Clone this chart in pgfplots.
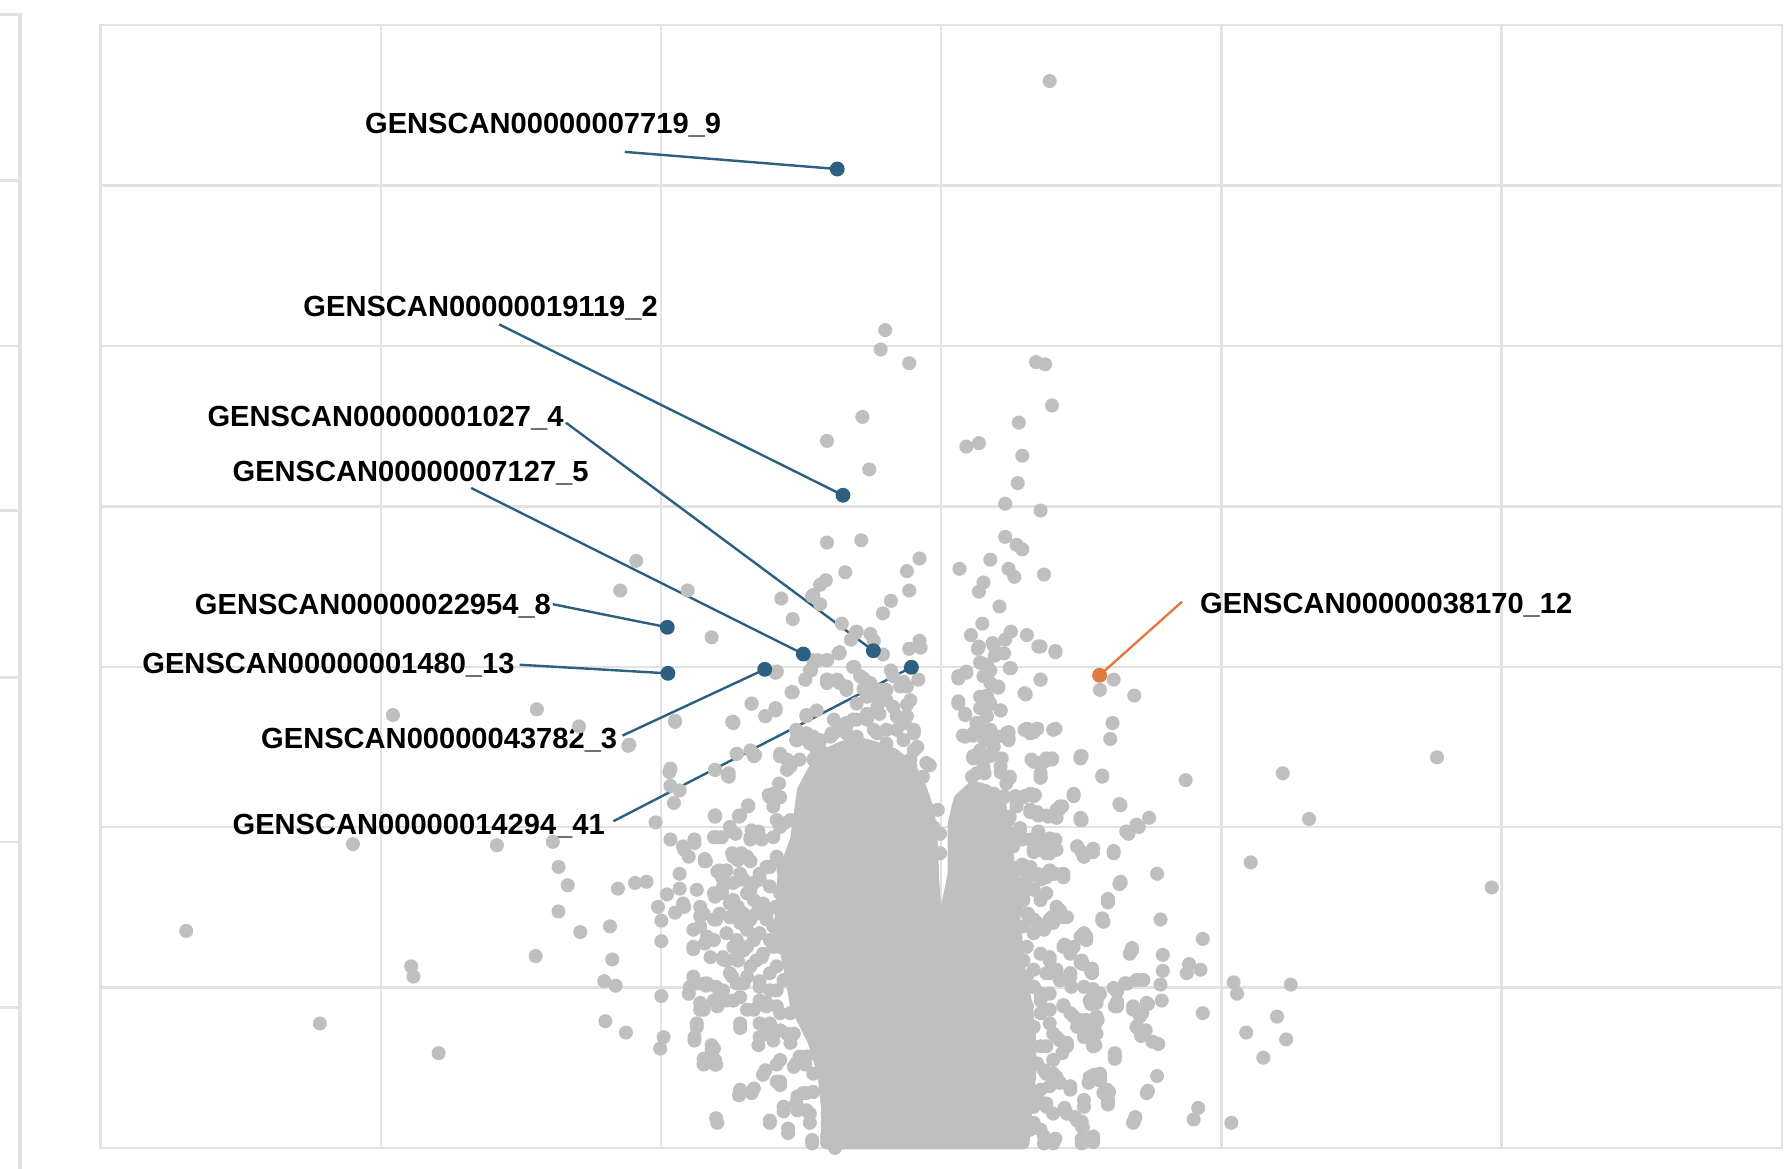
\documentclass[border=0pt]{standalone}
\usepackage{pgfplots}
\pgfplotsset{compat=1.18}
\usepackage{pgfplotstable}
\usepackage{fontspec}
\setmainfont{Liberation Sans}
\definecolor{ptgray}{RGB}{191,191,191}
\definecolor{gridc}{RGB}{226,226,226}
\definecolor{lblue}{RGB}{44,95,128}
\definecolor{lorange}{RGB}{224,122,62}
\newcommand{\lbl}{\fontsize{7.25}{8}\selectfont\bfseries}

\pgfplotstableread{
x y
919 71
775 289
771 306
796 318
755 365
724 386
761 411
907 317
915 319
921 355
892 370
846 391
857 388
895 399
891 423
880 441
911 447
724 475
754 473
805 489
794 500
796 517
740 501
723 508
718 512
711 522
684 524
718 529
694 542
780 526
773 537
737 546
749 554
745 560
762 555
765 561
773 573
805 561
806 567
796 568
735 571
724 578
716 578
710 587
705 595
680 588
694 606
724 595
733 596
748 584
756 594
780 587
791 597
804 595
679 621
670 627
840 498
867 490
861 510
857 518
883 498
888 505
914 503
880 470
890 477
895 481
875 531
860 546
850 556
885 553
880 560
869 563
871 574
856 568
899 556
909 566
924 570
858 580
864 582
885 585
839 594
846 589
864 592
874 602
911 595
898 608
839 616
865 613
975 595
963 604
993 609
712 521
750 553
557 491
543 517
602 517
623 558
712 578
734 572
709 587
735 598
747 584
762 598
679 589
658 616
679 622
641 632
591 631
551 652
706 626
715 622
730 630
741 633
750 630
759 625
768 619
776 613
698 645
706 642
718 648
727 645
741 642
750 645
645 660
657 657
683 660
689 665
712 665
724 660
587 673
344 626
470 621
507 636
550 653
591 632
642 633
586 676
587 688
595 692
590 703
626 674
637 679
626 715
647 715
574 720
309 739
435 740
484 737
489 759
497 775
489 798
508 816
469 837
534 811
536 840
529 859
539 863
530 894
548 904
579 872
581 908
578 918
541 778
556 773
566 772
587 735
599 744
608 738
603 750
618 754
584 783
595 778
576 794
591 799
599 794
613 802
579 806
579 824
607 831
607 855
618 863
603 870
613 884
628 881
610 899
608 911
623 919
616 932
627 932
647 959
628 983
360 846
362 855
280 896
384 922
163 815
974 633
972 647
947 662
965 680
1038 683
1123 677
1258 663
980 704
1006 716
997 724
988 730
947 718
1146 717
957 744
949 750
975 747
1013 765
980 774
1095 755
1306 777
970 790
965 806
1016 805
950 822
1053 822
991 832
1018 836
948 844
955 850
1041 844
1039 852
1051 849
1000 858
1018 850
1016 862
985 861
977 867
957 866
961 873
1017 876
1005 879
976 881
955 879
992 884
1000 887
1053 887
1080 860
1083 870
1130 862
1118 890
1091 904
1126 910
1106 926
961 893
953 897
957 905
996 900
999 907
1009 912
1014 914
959 915
976 925
1013 942
958 941
953 948
963 944
971 956
970 966
1005 955
949 969
993 981
1049 970
1045 980
1078 983
948 987
950 999
957 998
638 680
660 662
683 662
673 696
682 686
655 706
647 714
626 714
625 733
632 733
641 728
657 733
664 728
667 735
680 718
686 721
617 754
628 763
632 768
642 750
649 747
657 754
648 770
654 782
642 788
660 773
665 770
674 759
680 753
626 785
632 782
616 800
625 805
630 800
644 797
651 800
657 805
664 797
671 800
679 794
636 817
645 823
654 829
665 817
674 823
683 829
617 826
622 838
633 840
645 838
657 846
667 838
680 846
617 861
630 867
641 855
651 861
665 859
674 867
686 858
616 884
636 876
648 873
660 884
671 878
683 887
648 900
665 896
677 905
689 905
625 918
616 931
626 932
664 915
671 905
680 932
695 934
705 932
668 941
683 950
648 957
658 957
698 960
706 957
686 973
698 972
674 983
690 992
711 1001
724 1000
731 1005
706 972
709 983
698 648
709 648
717 654
728 642
741 635
750 616
759 610
771 604
788 601
794 617
785 627
792 633
800 642
791 648
803 654
797 665
814 670
821 709
823 730
823 747
741 601
756 603
724 598
776 639
765 639
845 626
858 610
864 619
855 633
867 639
876 622
845 645
852 642
862 648
870 654
852 664
861 665
877 664
851 680
862 677
876 676
884 681
852 695
870 695
879 697
881 642
883 646
897 607
897 639
905 641
908 638
922 639
905 667
914 667
921 665
911 677
911 681
889 697
897 697
905 697
890 706
902 711
909 714
918 715
927 709
930 706
940 697
946 664
946 718
981 705
871 721
883 718
893 727
881 733
887 741
877 754
905 738
914 738
922 740
905 746
916 747
925 744
909 730
919 734
892 759
900 762
908 765
916 768
922 765
931 768
889 773
899 779
911 788
943 741
947 746
957 746
981 773
970 789
966 807
928 797
934 803
919 805
914 811
890 797
900 800
905 805
946 820
951 823
931 829
937 835
919 838
946 843
956 852
963 870
957 867
989 835
1001 858
987 861
978 868
978 881
919 852
928 858
937 855
919 870
899 855
905 864
911 870
931 881
937 887
946 893
951 899
959 896
960 905
957 916
998 890
1003 902
995 899
1004 878
922 905
928 911
934 916
916 916
976 927
905 931
914 937
922 940
928 948
954 943
963 946
966 957
970 967
937 954
908 960
916 966
922 975
934 975
943 981
947 986
905 983
914 1001
922 1001
947 1001
957 1000
1004 957
992 983
893 975
902 989
598 741
608 735
627 733
639 724
644 730
658 727
665 733
657 735
677 733
683 724
692 718
677 706
683 698
674 698
655 705
648 714
626 714
617 752
641 747
646 753
654 750
630 762
636 762
648 765
665 765
671 759
680 750
686 762
692 753
595 765
610 779
625 782
633 776
642 773
651 770
657 779
665 770
674 776
683 782
598 791
613 794
639 791
646 794
660 788
668 791
607 814
613 811
619 820
627 805
639 803
648 808
654 814
662 800
671 805
677 811
683 817
625 823
607 829
633 838
642 829
651 832
660 823
668 835
677 829
636 841
646 841
662 841
604 864
610 861
619 861
627 864
639 852
645 861
654 855
665 864
674 852
680 867
692 858
700 867
613 878
625 876
633 867
642 876
654 884
665 876
671 881
680 881
692 887
610 896
648 896
674 896
683 902
695 905
608 908
623 915
616 927
626 928
665 908
677 911
692 913
700 925
683 928
712 940
680 947
697 931
706 925
648 954
660 953
670 937
683 947
686 969
697 966
703 957
712 956
709 975
674 981
627 979
690 988
711 998
724 995
733 998
680 588
693 606
705 595
724 595
714 579
724 578
735 572
747 584
733 595
741 604
753 592
759 604
768 610
776 604
782 619
770 625
759 630
747 630
735 636
730 642
718 648
712 645
706 627
697 639
697 648
709 651
715 657
700 665
692 671
683 662
689 674
677 695
658 616
670 627
679 620
642 632
638 677
626 674
645 660
661 661
782 592
794 601
797 613
794 627
800 639
800 657
785 639
776 651
768 642
797 671
811 668
808 680
803 698
811 712
817 724
857 566
870 565
879 572
911 566
924 571
839 592
846 588
860 581
867 587
861 592
867 598
884 585
911 595
874 601
897 607
839 614
845 625
864 609
867 616
858 620
864 627
876 622
843 644
852 644
855 633
861 639
867 648
873 645
883 641
883 648
899 638
908 638
902 642
924 638
852 662
858 657
867 662
876 671
861 671
855 677
903 665
911 668
916 664
921 664
911 680
884 680
881 686
946 662
965 679
940 695
846 698
841 706
843 715
852 706
861 698
870 695
879 698
890 703
896 698
902 695
906 696
902 709
908 711
916 714
925 709
928 706
925 716
946 716
986 728
995 722
873 719
884 715
893 725
884 730
876 735
887 738
895 735
909 728
902 735
905 744
911 744
916 738
924 735
924 743
919 747
943 741
949 750
957 743
975 745
876 753
884 765
890 762
895 757
902 759
903 766
899 770
911 770
914 766
919 762
924 765
931 765
881 776
890 782
896 788
905 779
911 785
916 782
981 772
970 787
965 804
925 794
931 803
921 803
922 808
887 803
899 800
908 808
914 814
896 811
905 817
887 817
949 817
951 820
932 827
940 829
947 841
956 848
991 830
899 829
911 835
919 841
896 841
905 849
916 852
925 849
928 858
937 852
938 864
949 864
957 867
960 878
954 876
975 865
985 861
978 877
995 858
992 881
995 899
905 864
911 876
899 881
911 887
919 884
919 896
905 899
931 880
940 890
943 899
951 893
960 890
956 899
949 908
957 913
925 908
934 913
930 922
922 928
976 922
911 916
908 931
916 940
919 951
925 943
911 954
905 969
916 969
937 951
949 963
954 946
963 940
969 954
970 963
932 970
941 978
947 982
994 978
914 995
924 997
947 997
957 995
902 984
911 989
}\graypts

\begin{document}
\begin{tikzpicture}
\path[use as bounding box] (0,0) rectangle (15.68cm,10.23cm);
\clip (0,0) rectangle (15.68cm,10.23cm);

% fragment of the neighbouring panel on the left
\begin{axis}[
  at={(0.175cm,10.10cm)}, anchor=north east,
  scale only axis, width=1.5cm, height=10.14cm,
  xmin=-132.5, xmax=17.5, ymin=13, ymax=1027, y dir=reverse,
  xtick=\empty, ytick={13,158,303,447,593,737,882,1027},
  yticklabels={}, major tick length=0pt,
  ymajorgrids, grid style={gridc, line width=0.6pt},
  axis line style={gridc, line width=0.8pt},
]
\addplot[draw=none] coordinates {(0,500)};
\end{axis}

% main volcano panel
\begin{axis}[
  at={(0.88cm,0.18cm)}, anchor=south west,
  scale only axis, width=14.72cm, height=9.83cm,
  xmin=88, xmax=1560, ymin=22, ymax=1005, y dir=reverse,
  xtick={88,333.33,578.67,824,1069.33,1314.67,1560},
  ytick={22,162.43,302.86,443.29,583.71,724.14,864.57,1005},
  xticklabels={}, yticklabels={}, major tick length=0pt,
  grid=major, grid style={gridc, line width=0.6pt},
  axis line style={gridc, line width=0.6pt},
  clip=false,
]
% solid dense core of overlapping points
\addplot[fill=ptgray, draw=ptgray, line width=3pt, line join=round] coordinates {
(724,1001) (724,969) (721,940) (712,911) (697,881) (692,852) (683,808)
(686,765) (697,735) (703,692) (712,675) (721,662) (735,655) (750,650)
(765,654) (782,660) (797,672) (806,690) (813,710) (816,740) (817,770)
(819,800) (823,810) (829,794) (835,765) (835,721) (840,700) (852,689)
(864,692) (876,706) (881,735) (884,765) (887,794) (890,823) (893,852)
(899,881) (902,911) (902,940) (899,969) (896,1001)} -- cycle;

\addplot[only marks, mark=*, mark size=1.55pt, color=ptgray] table[x=x,y=y] {\graypts};

% leader lines
\draw[lblue, line width=0.6pt] (axis cs:547,133) -- (axis cs:733,148);
\draw[lblue, line width=0.6pt] (axis cs:437,284) -- (axis cs:738,433.6);
\draw[lblue, line width=0.6pt] (axis cs:495.4,370) -- (axis cs:764.6,569.7);
\draw[lblue, line width=0.6pt] (axis cs:412.5,427.2) -- (axis cs:703.3,572.6);
\draw[lblue, line width=0.6pt] (axis cs:484,529) -- (axis cs:584.2,549.2);
\draw[lblue, line width=0.6pt] (axis cs:455,582) -- (axis cs:584.8,589.5);
\draw[lblue, line width=0.6pt] (axis cs:545,644) -- (axis cs:669.5,586);
\draw[lblue, line width=0.6pt] (axis cs:537,719) -- (axis cs:797.9,584.2);
\draw[lorange, line width=0.6pt] (axis cs:1034.8,526.8) -- (axis cs:962.7,591.2);

% highlighted genes
\addplot[only marks, mark=*, mark size=1.65pt, color=lblue] coordinates {
(733,148) (738,433.6) (764.6,569.7) (703.3,572.6) (584.2,549.2)
(584.8,589.5) (669.5,586) (797.9,584.2)};
\addplot[only marks, mark=*, mark size=1.65pt, color=lorange] coordinates {(962.7,591.2)};

% labels
\node[anchor=base west, inner sep=0pt, font=\lbl] at (axis cs:319,117) {GENSCAN00000007719\_9};
\node[anchor=base west, inner sep=0pt, font=\lbl] at (axis cs:265,277) {GENSCAN00000019119\_2};
\node[anchor=base west, inner sep=0pt, font=\lbl] at (axis cs:181,373) {GENSCAN00000001027\_4};
\node[anchor=base west, inner sep=0pt, font=\lbl] at (axis cs:203,422) {GENSCAN00000007127\_5};
\node[anchor=base west, inner sep=0pt, font=\lbl] at (axis cs:170,538) {GENSCAN00000022954\_8};
\node[anchor=base west, inner sep=0pt, font=\lbl] at (axis cs:124,590) {GENSCAN00000001480\_13};
\node[anchor=base west, inner sep=0pt, font=\lbl] at (axis cs:228,655) {GENSCAN00000043782\_3};
\node[anchor=base west, inner sep=0pt, font=\lbl] at (axis cs:203,731) {GENSCAN00000014294\_41};
\node[anchor=base west, inner sep=0pt, font=\lbl] at (axis cs:1050,537) {GENSCAN00000038170\_12};
\end{axis}
\end{tikzpicture}
\end{document}
